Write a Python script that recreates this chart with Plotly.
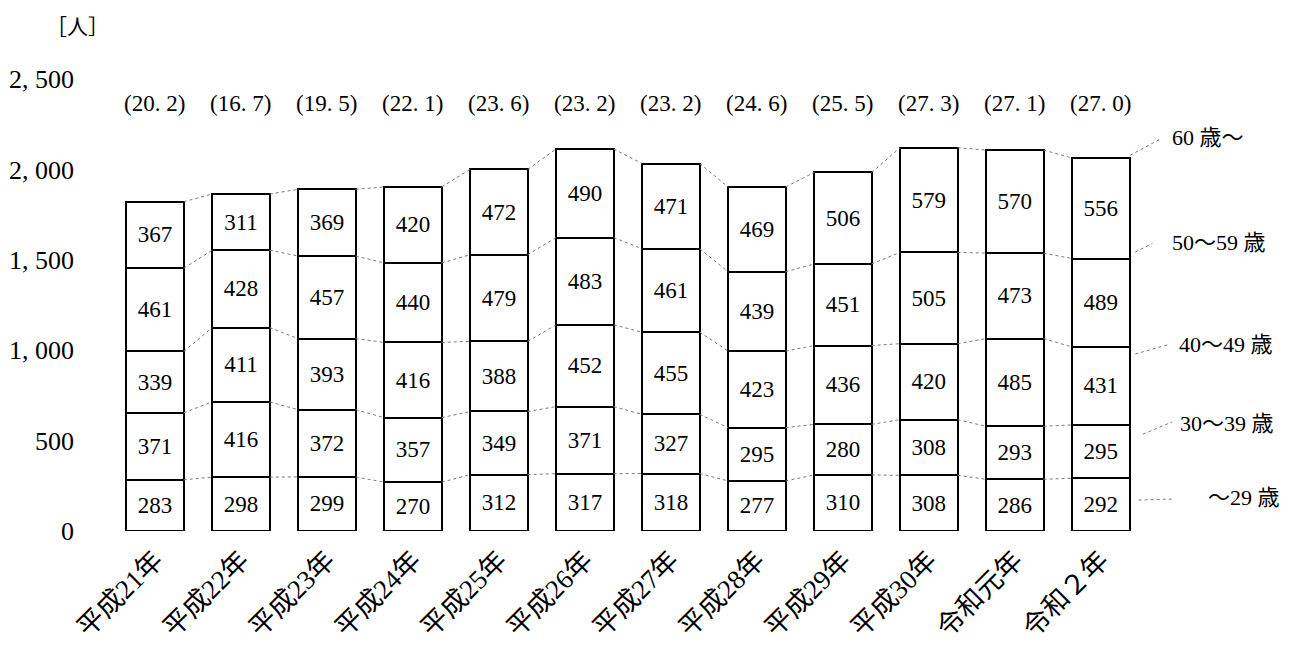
import plotly.graph_objects as go

categories = ["平成21年", "平成22年", "平成23年", "平成24年", "平成25年", "平成26年",
              "平成27年", "平成28年", "平成29年", "平成30年", "令和元年", "令和２年"]
age_groups = ["〜29 歳", "30〜39 歳", "40〜49 歳", "50〜59 歳", "60 歳〜"]
age_u29 = [283, 298, 299, 270, 312, 317, 318, 277, 310, 308, 286, 292]
age_30s = [371, 416, 372, 357, 349, 371, 327, 295, 280, 308, 293, 295]
age_40s = [339, 411, 393, 416, 388, 452, 455, 423, 436, 420, 485, 431]
age_50s = [461, 428, 457, 440, 479, 483, 461, 439, 451, 505, 473, 489]
age_60p = [367, 311, 369, 420, 472, 490, 471, 469, 506, 579, 570, 556]
ratio_60p = [20.2, 16.7, 19.5, 22.1, 23.6, 23.2, 23.2, 24.6, 25.5, 27.3, 27.1, 27.0]
y_ticks = [0, 500, 1000, 1500, 2000, 2500]

series = [age_u29, age_30s, age_40s, age_50s, age_60p]

SERIF = "Liberation Serif, Noto Sans CJK JP"
BW = 0.67
xs = list(range(len(categories)))

fig = go.Figure()

for vals in series:
    fig.add_trace(go.Bar(
        x=xs, y=vals, width=BW,
        marker=dict(color="white", line=dict(color="black", width=2)),
        text=[str(v) for v in vals], textposition="inside",
        insidetextanchor="middle", textangle=0, constraintext="none",
        textfont=dict(family=SERIF, size=23, color="black"),
        hoverinfo="skip", showlegend=False,
    ))

# cumulative levels
cum = []
run = [0] * len(categories)
for vals in series:
    run = [a + b for a, b in zip(run, vals)]
    cum.append(run)

# dotted connector lines between bars
cx, cy = [], []
for lev in cum:
    for i in range(len(categories) - 1):
        cx += [i + BW / 2, i + 1 - BW / 2, None]
        cy += [lev[i], lev[i + 1], None]
fig.add_trace(go.Scatter(x=cx, y=cy, mode="lines",
                         line=dict(color="#7a7a7a", width=1, dash="dot"),
                         hoverinfo="skip", showlegend=False))

# right-side series labels with leaders
last = len(categories) - 1
label_y = [188, 597, 1029, 1598, 2179]
label_x = [12.22, 11.90, 11.88, 11.81, 11.80]
lead_start = [(11.44, 171), (11.49, 536), (11.40, 979), (11.40, 1543), (11.34, cum[4][last] + 15)]
lead_end = [(11.84, 177), (11.83, 603), (11.77, 1029), (11.60, 1590), (11.70, 2170)]
lx, ly = [], []
for s, e in zip(lead_start, lead_end):
    lx += [s[0], e[0], None]
    ly += [s[1], e[1], None]
fig.add_trace(go.Scatter(x=lx, y=ly, mode="lines",
                         line=dict(color="#7a7a7a", width=1, dash="dot"),
                         hoverinfo="skip", showlegend=False))

for name, x, y in zip(age_groups, label_x, label_y):
    fig.add_annotation(x=x, y=y, xref="x", yref="y", text=name, showarrow=False,
                       xanchor="left", yanchor="middle",
                       font=dict(family=SERIF, size=22, color="black"))

# ratio labels above bars
for i, r in enumerate(ratio_60p):
    fig.add_annotation(x=i, y=2365, xref="x", yref="y",
                       text="(" + f"{r:.1f}".replace(".", ". ") + ")",
                       showarrow=False, xanchor="center", yanchor="middle",
                       font=dict(family=SERIF, size=23, color="black"))

fig.add_annotation(x=-0.029, y=1.12, xref="paper", yref="paper", text="［人］",
                   showarrow=False, xanchor="center", yanchor="middle",
                   font=dict(family="Noto Sans CJK JP", size=21, color="black"))

fig.update_layout(
    width=1289, height=638,
    margin=dict(l=104, r=7, t=71, b=115),
    paper_bgcolor="white", plot_bgcolor="white",
    barmode="stack", showlegend=False,
    xaxis=dict(range=[-0.5, 13.2], tickmode="array", tickvals=xs, ticktext=categories,
               tickangle=-45, showgrid=False, zeroline=False, showline=False,
               ticks="", ticklabelstandoff=7, automargin=False,
               tickfont=dict(family=SERIF, size=27, color="black")),
    yaxis=dict(range=[0, 2500], tickmode="array", tickvals=y_ticks,
               ticktext=[f"{v:,}".replace(",", ", ") for v in y_ticks],
               showgrid=False, zeroline=False, showline=False, ticks="",
               ticklabelstandoff=37, automargin=False,
               tickfont=dict(family=SERIF, size=26, color="black")),
)

fig.write_html("out.html")
